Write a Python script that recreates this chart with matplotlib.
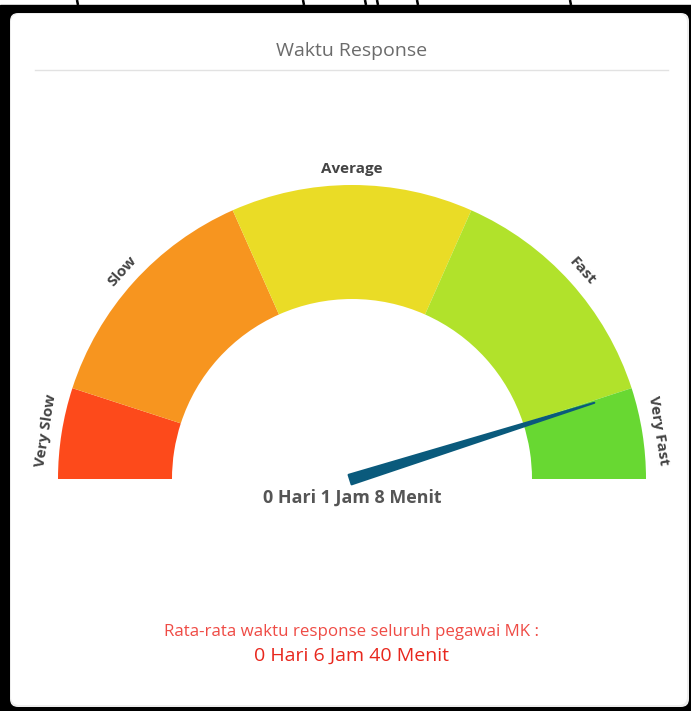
import numpy as np
import matplotlib.pyplot as plt
from matplotlib.patches import Wedge, Polygon, FancyBboxPatch, Rectangle

plt.rcParams['font.family'] = ['Open Sans', 'DejaVu Sans']

# gauge data (scale 0-100, left to right)
bands = ['Very Slow', 'Slow', 'Average', 'Fast', 'Very Fast']
band_edges = [0, 10, 36.7, 63.3, 90, 100]
band_colors = ['#fd4a1b', '#f7951f', '#eadc26', '#b1e22b', '#68d832']
needle_value = 90.3
needle_label = '0 Hari 1 Jam 8 Menit'
avg_caption = 'Rata-rata waktu response seluruh pegawai MK :'
avg_label = '0 Hari 6 Jam 40 Menit'
title = 'Waktu Response'

W, H = 691, 711


def Y(y):
    # image row -> axes y (upwards)
    return H - y


def ang(v):
    return 180 - v / 100 * 180


fig = plt.figure(figsize=(W / 100, H / 100), dpi=100)
ax = fig.add_axes([0, 0, 1, 1])
ax.set_xlim(0, W)
ax.set_ylim(0, H)
ax.axis('off')

# screenshot frame
ax.add_patch(Rectangle((0, 0), W, Y(5), color='black', zorder=0))
for x0 in [77, 303, 365, 377, 417, 570]:
    ax.plot([x0, x0 + 1], [Y(0), Y(5)], color='black', lw=1.8,
            solid_capstyle='butt', zorder=1)
ax.add_patch(FancyBboxPatch((10, Y(707)), 679, 694, boxstyle='round,pad=0,rounding_size=8',
                            fc='#eeeeee', ec='none', zorder=1))
ax.add_patch(FancyBboxPatch((11, Y(705)), 676, 691, boxstyle='round,pad=0,rounding_size=8',
                            fc='white', ec='none', zorder=2))

ax.text(352, Y(51), title, ha='center', va='center', fontsize=14, color='#6b6b6b', zorder=3)
ax.plot([35, 668], [Y(70), Y(70)], color='#e2e2e2', lw=1, zorder=3)

cx, cy = 352, Y(479)
r_out, r_in = 294, 180
for name, lo, hi, c in zip(bands, band_edges[:-1], band_edges[1:], band_colors):
    ax.add_patch(Wedge((cx, cy), r_out, ang(hi), ang(lo), width=r_out - r_in,
                       fc=c, ec='none', zorder=3))
    mid = np.radians((ang(lo) + ang(hi)) / 2)
    ax.text(cx + 310 * np.cos(mid), cy + 310 * np.sin(mid), name,
            rotation=np.degrees(mid) - 90, rotation_mode='anchor',
            ha='center', va='center', fontsize=11, fontweight='bold',
            color='#444444', zorder=4)

# needle
a = np.radians(ang(needle_value))
ux, uy = np.cos(a), np.sin(a)
px, py = -uy, ux
hw, L = 5, 254
pts = [(cx + px * hw - ux * 2, cy + py * hw - uy * 2),
       (cx + ux * L, cy + uy * L),
       (cx - px * hw - ux * 2, cy - py * hw - uy * 2)]
ax.add_patch(Polygon(pts, closed=True, fc='#0a5a7c', ec='#0a5a7c', lw=1.5,
                     joinstyle='round', zorder=5))

ax.text(352, Y(498), needle_label, ha='center', va='center', fontsize=12.9,
        fontweight='bold', color='#555555', zorder=4)

ax.text(352, Y(632), avg_caption, ha='center', va='center', fontsize=12.2,
        color='#ef4b45', zorder=4)
ax.text(352, Y(656), avg_label, ha='center', va='center', fontsize=14,
        color='#e8271d', zorder=4)

fig.savefig('out.png', dpi=100)
